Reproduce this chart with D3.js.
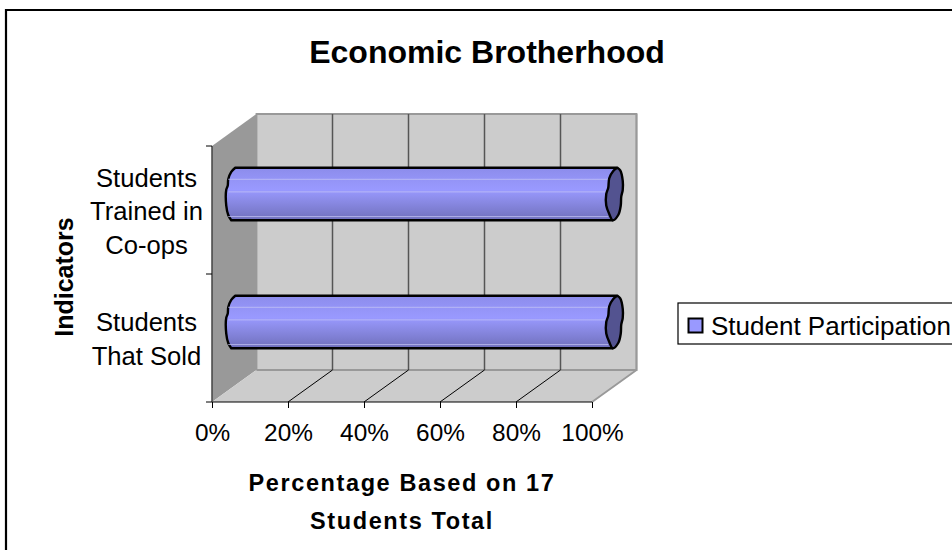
<!DOCTYPE html>
<html>
<head>
<meta charset="utf-8">
<script src="https://cdn.jsdelivr.net/npm/d3@7"></script>
<style>
html,body{margin:0;padding:0;background:#fff}
svg{display:block}
text{font-family:"Liberation Sans",Arial,sans-serif;fill:#000}
</style>
</head>
<body>
<svg id="chart" width="952" height="550"></svg>
<script>
// Chart content
const chartTitle = "Economic Brotherhood";
const categories = ["Students That Sold", "Students Trained in Co-ops"];
const categoryLines = [["Students", "That Sold"], ["Students", "Trained in", "Co-ops"]];
const seriesName = "Student Participation";
const seriesValues = [100, 100];
const xTicks = [0, 20, 40, 60, 80, 100];
const xTitleLines = ["Percentage Based on 17", "Students Total"];
const yTitle = "Indicators";

const svg = d3.select("#chart");

// Frame of the chart area: only the top and left edges fall inside the page
svg.append("path").attr("d", "M6,550V10H952").attr("fill", "none").attr("stroke", "#000").attr("stroke-width", 2.2);

// Oblique projection: the front plane is mapped by the scales, the back wall is shifted by depth
const x = d3.scaleLinear().domain([0, 100]).range([212, 592]);
const y = d3.scaleBand().domain(categories).range([402, 146]);
const depthX = 44.5, depthY = -32;
const [x0, x1] = x.range();
const [yBottom, yTop] = y.range();

// Back wall, side wall, floor
const wall = "#cccccc", side = "#999999", edge = "#999999";
svg.append("path").attr("d", `M${x0 + depthX},${yTop + depthY}H${x1 + depthX}V${yBottom + depthY}H${x0 + depthX}Z`)
  .attr("fill", wall).attr("stroke", edge).attr("stroke-width", 1.8);
svg.append("path").attr("d", `M${x0},${yTop}L${x0 + depthX},${yTop + depthY}V${yBottom + depthY}L${x0},${yBottom}Z`)
  .attr("fill", side);
svg.append("path").attr("d", `M${x0},${yBottom}L${x0 + depthX},${yBottom + depthY}H${x1 + depthX}L${x1},${yBottom}Z`)
  .attr("fill", wall);
svg.append("path").attr("d", `M${x1},${yBottom}L${x1 + depthX},${yBottom + depthY}V${yTop + depthY}`)
  .attr("fill", "none").attr("stroke", edge).attr("stroke-width", 1.8);
svg.append("line").attr("x1", x0 + depthX).attr("x2", x1 + depthX).attr("y1", yBottom + depthY).attr("y2", yBottom + depthY)
  .attr("stroke", edge).attr("stroke-width", 1.8);

// Gridlines on wall and floor
xTicks.slice(1, -1).forEach(t => {
  const px = x(t) + depthX;
  svg.append("line").attr("x1", px).attr("x2", px).attr("y1", yTop + depthY).attr("y2", yBottom + depthY)
    .attr("stroke", "#555").attr("stroke-width", 1.5);
  svg.append("line").attr("x1", x(t)).attr("x2", px).attr("y1", yBottom).attr("y2", yBottom + depthY)
    .attr("stroke", "#000").attr("stroke-width", 1);
});

// Stepped shading along the cylinder height
const defs = svg.append("defs");
const shade = defs.append("linearGradient").attr("id", "tube").attr("x1", 0).attr("x2", 0).attr("y1", 0).attr("y2", 1);
[[0, "#8c8ceb"], [0.2, "#9393f5"], [0.42, "#9999ff"], [0.55, "#9090ef"], [0.75, "#8282d8"], [1, "#6f6fbb"]]
  .forEach(([o, c]) => shade.append("stop").attr("offset", o).attr("stop-color", c));

// Cylinders
const halfDepthX = depthX / 2, halfDepthY = depthY / 2;
const barHeight = y.bandwidth() * 0.41;
const outline = d3.line().curve(d3.curveCatmullRom.alpha(0.5));
categories.forEach((c, i) => {
  const cy = y(c) + y.bandwidth() / 2 + halfDepthY;
  const top = cy - barHeight / 2, bot = cy + barHeight / 2;
  const xs = x(0) + halfDepthX, xe = x(seriesValues[i]) + halfDepthX;
  const g = svg.append("g");
  const h = barHeight;

  // Body with rounded far end on the left
  const leftEdge = [[xs + 1, top], [xs - 3, top + h * 0.08], [xs - 6, top + h * 0.22], [xs - 6.5, top + h * 0.34],
                    [xs - 8, top + h * 0.42], [xs - 8, top + h * 0.72], [xs - 6, top + h * 0.9], [xs - 3, bot]];
  const capPts = [[xe + 3, top], [xe + 6, top + h * 0.05], [xe + 8.5, top + h * 0.25], [xe + 8.5, top + h * 0.42], [xe + 7, top + h * 0.55],
                  [xe + 6.5, top + h * 0.72], [xe + 4, top + h * 0.9], [xe - 1.5, bot], [xe - 5, top + h * 0.88], [xe - 8, top + h * 0.72],
                  [xe - 8, top + h * 0.5], [xe - 6, top + h * 0.38], [xe - 5, top + h * 0.2], [xe - 1, top + h * 0.06], [xe + 3, top]];
  const leftPath = outline(leftEdge);
  g.append("path")
    .attr("d", `M${xe + 3},${top}L${xs + 1},${top}` + leftPath.replace(/^M[^C]*/, "") + `L${xe - 1.5},${bot}Z`)
    .attr("fill", "url(#tube)").attr("stroke", "#000").attr("stroke-width", 2.4).attr("stroke-linejoin", "round");

  // Pale facet seams along the tube
  [0.22, 0.46, 0.93].forEach(f => {
    g.append("line").attr("x1", xs - 6).attr("x2", xe - 6).attr("y1", top + h * f).attr("y2", top + h * f)
      .attr("stroke", "#c4c4f4").attr("stroke-opacity", 0.75).attr("stroke-width", 1);
  });

  // Near end of the tube
  g.append("path").attr("d", outline(capPts)).attr("fill", "#535390")
    .attr("stroke", "#000").attr("stroke-width", 2.4).attr("stroke-linejoin", "round");
});

// Front axes
const xAxis = d3.axisBottom(x).tickValues(xTicks).tickFormat(d => d + "%").tickSize(6).tickPadding(16);
const gx = svg.append("g").attr("transform", `translate(0,${yBottom})`).call(xAxis);
gx.selectAll("text").style("font-size", "24.4px").attr("font-family", null);
gx.selectAll("line").attr("stroke", "#000").attr("stroke-width", 1);
gx.select(".domain").remove();
svg.append("line").attr("x1", x0).attr("x2", x1).attr("y1", yBottom).attr("y2", yBottom).attr("stroke", "#000").attr("stroke-width", 1.2);

svg.append("line").attr("x1", x0).attr("x2", x0).attr("y1", yTop).attr("y2", yBottom).attr("stroke", "#444").attr("stroke-width", 1.5);
[yTop, (yTop + yBottom) / 2, yBottom].forEach(py => {
  svg.append("line").attr("x1", x0 - 6).attr("x2", x0).attr("y1", py).attr("y2", py).attr("stroke", "#000");
});

// Category labels
categories.forEach((c, i) => {
  const lines = categoryLines[i];
  const cy = y(c) + y.bandwidth() / 2;
  const lh = 33.5;
  lines.forEach((l, k) => {
    svg.append("text").attr("text-anchor", "middle")
      .attr("x", 146.5).attr("y", cy + (k - (lines.length - 1) / 2) * lh + 10)
      .style("font-size", "25.6px").text(l);
  });
});

// Titles
svg.append("text").attr("x", 487).attr("y", 63).attr("text-anchor", "middle")
  .style("font-size", "32px").style("font-weight", "bold").text(chartTitle);
xTitleLines.forEach((l, k) => {
  svg.append("text").attr("x", 402).attr("y", 491 + k * 38).attr("text-anchor", "middle")
    .style("font-size", "23.5px").style("font-weight", "bold").style("letter-spacing", "1.6px").text(l);
});
svg.append("text").attr("transform", "translate(73,277) rotate(-90)").attr("text-anchor", "middle")
  .style("font-size", "25px").style("font-weight", "bold").text(yTitle);

// Legend
const lg = svg.append("g");
lg.append("rect").attr("x", 678).attr("y", 303).attr("width", 300).attr("height", 41).attr("fill", "#fff").attr("stroke", "#000").attr("stroke-width", 1.2);
lg.append("rect").attr("x", 688.5).attr("y", 318.5).attr("width", 14).attr("height", 14).attr("fill", "#9999ff").attr("stroke", "#000").attr("stroke-width", 2);
lg.append("text").attr("x", 711).attr("y", 335).style("font-size", "26px").text(seriesName);
</script>
</body>
</html>
